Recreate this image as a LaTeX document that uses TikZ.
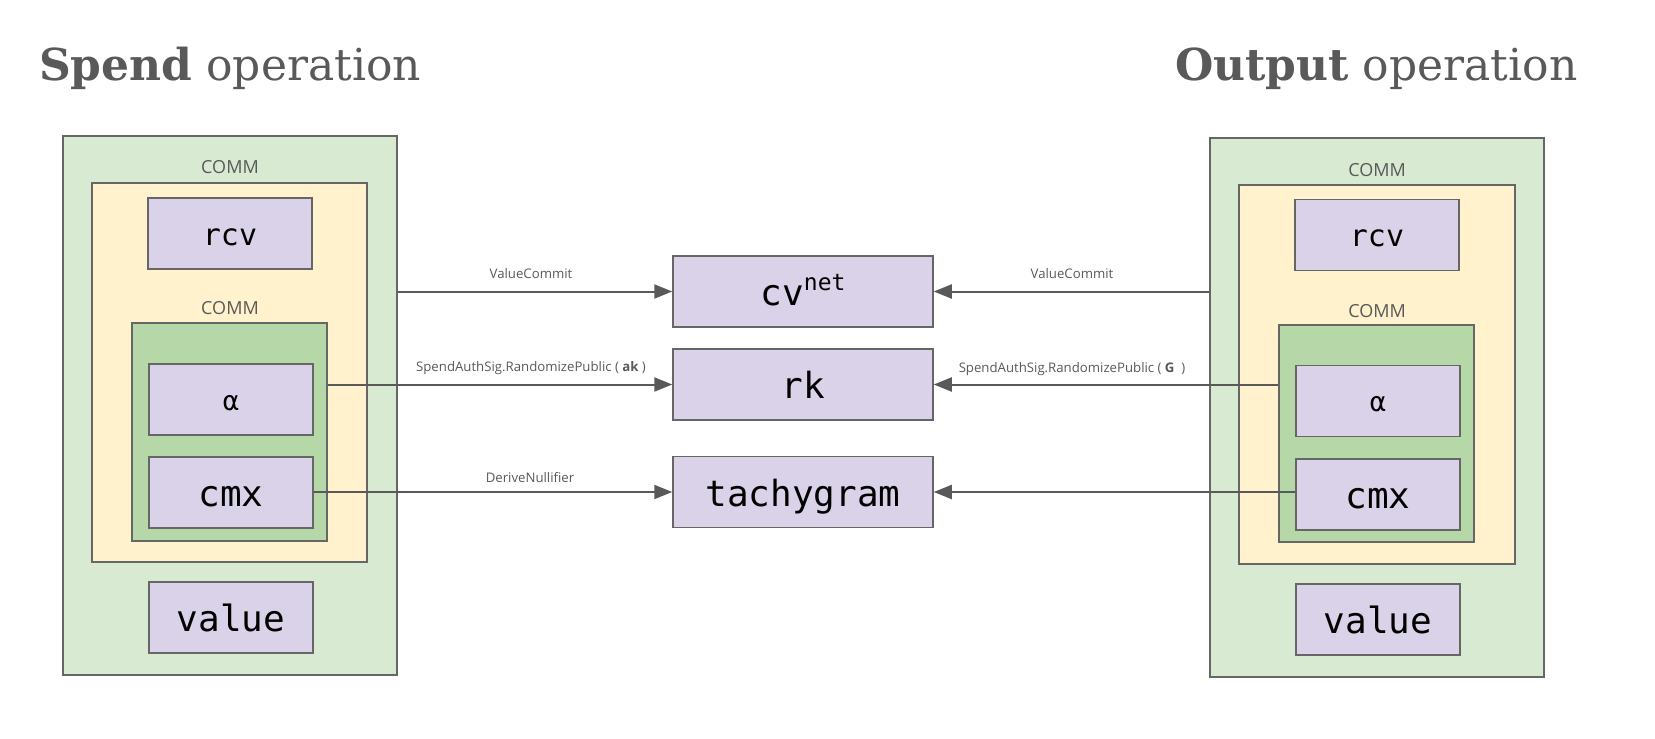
\documentclass[tikz,border=0pt]{standalone}
\usepackage{fontspec}
\usetikzlibrary{arrows.meta,calc}
\newfontfamily\monof{DejaVu Sans Mono}
\newfontfamily\labf{Open Sans}
\newfontfamily\titlef{DejaVu Serif}
\definecolor{outerg}{HTML}{D9EAD3}
\definecolor{yel}{HTML}{FFF2CC}
\definecolor{innerg}{HTML}{B6D7A8}
\definecolor{purp}{HTML}{D9D2E9}
\definecolor{bord}{HTML}{666666}
\definecolor{txtg}{HTML}{595959}
\tikzset{
  box/.style={draw=bord, line width=1.5pt, inner sep=0pt, rectangle},
  outerbox/.style={box, fill=outerg, minimum width=334pt, minimum height=539pt},
  yellowbox/.style={box, fill=yel, minimum width=275pt, minimum height=379pt},
  greenbox/.style={box, fill=innerg, minimum width=195pt, minimum height=218pt},
  leafbox/.style={box, fill=purp, minimum width=164pt, minimum height=71pt, text height=28pt, text depth=0pt, font=\monof\fontsize{36}{36}\selectfont},
  smallleaf/.style={leafbox, text height=23pt, font=\monof\fontsize{30}{30}\selectfont},
  alphaleaf/.style={leafbox, text height=21pt, font=\monof\fontsize{27}{27}\selectfont},
  midbox/.style={box, fill=purp, minimum width=260pt, minimum height=71pt, text height=28pt, text depth=0pt, font=\monof\fontsize{36}{36}\selectfont},
  commlbl/.style={inner sep=0pt, text=txtg, font=\labf\fontsize{18}{18}\selectfont},
  edgelbl/.style={inner sep=0pt, anchor=base, text=txtg, font=\labf\fontsize{13.2}{13.2}\selectfont},
  titlelbl/.style={inner sep=0pt, anchor=base west, text=txtg, font=\titlef\fontsize{44}{44}\selectfont},
  arr/.style={draw=txtg, line width=2pt, -{Triangle[length=18pt,width=14pt]}}
}
\begin{document}
\begin{tikzpicture}[x=1pt,y=-1pt]
\useasboundingbox (0,0) rectangle (1655,739);
% titles
\node[titlelbl] (ttl1) at (39,80) {\textbf{Spend} operation};
\node[titlelbl] (ttl2) at (1175,80) {\textbf{Output} operation};
% spend side
\node[outerbox] (souter) at (230,405.5) {};
\node[commlbl] (scomm1) at (230,167) {COMM};
\node[yellowbox] (syellow) at (229.5,372.5) {};
\node[smallleaf] (srcv) at (230,233.5) {rcv};
\node[commlbl] (scomm2) at (230,308) {COMM};
\node[greenbox] (sgreen) at (229.5,432) {};
\node[alphaleaf] (salpha) at (231,399.5) {α};
\node[leafbox] (scmx) at (231,492.5) {cmx};
\node[leafbox] (svalue) at (231,617.5) {value};
% middle
\node[midbox] (cv) at (803,291.5) {cv\raisebox{15pt}{\fontsize{23}{23}\selectfont net}};
\node[midbox] (rk) at (803,384.5) {rk};
\node[midbox] (tg) at (803,492) {tachygram};
% output side
\node[outerbox] (router) at (1377,407.5) {};
\node[commlbl] (rcomm1) at (1377,170) {COMM};
\node[yellowbox, minimum width=276pt] (ryellow) at (1377,374.5) {};
\node[smallleaf] (rrcv) at (1377,235) {rcv};
\node[commlbl] (rcomm2) at (1377,311) {COMM};
\node[greenbox, minimum height=217pt] (rgreen) at (1376.5,433.5) {};
\node[alphaleaf] (ralpha) at (1378,401) {α};
\node[leafbox] (rcmx) at (1378,494.5) {cmx};
\node[leafbox] (rvalue) at (1378,619.5) {value};
% connectors
\draw[arr] (souter.east |- cv.west) -- (cv.west);
\draw[arr] (sgreen.east |- rk.west) -- (rk.west);
\draw[arr] (scmx.east |- tg.west) -- (tg.west);
\draw[arr] (router.west |- cv.east) -- (cv.east);
\draw[arr] (rgreen.west |- rk.east) -- (rk.east);
\draw[arr] (rcmx.west |- tg.east) -- (tg.east);
% connector labels
\node[edgelbl] (l1) at (531,278) {ValueCommit};
\node[edgelbl] (l2) at (531,371) {SpendAuthSig.RandomizePublic ( \textbf{ak} )};
\node[edgelbl] (l3) at (530,482) {DeriveNullifier};
\node[edgelbl] (l4) at (1072,278) {ValueCommit};
\node[edgelbl] (l5) at (1072,372) {SpendAuthSig.RandomizePublic ( \textbf{G}\ \ )};
\end{tikzpicture}
\end{document}
